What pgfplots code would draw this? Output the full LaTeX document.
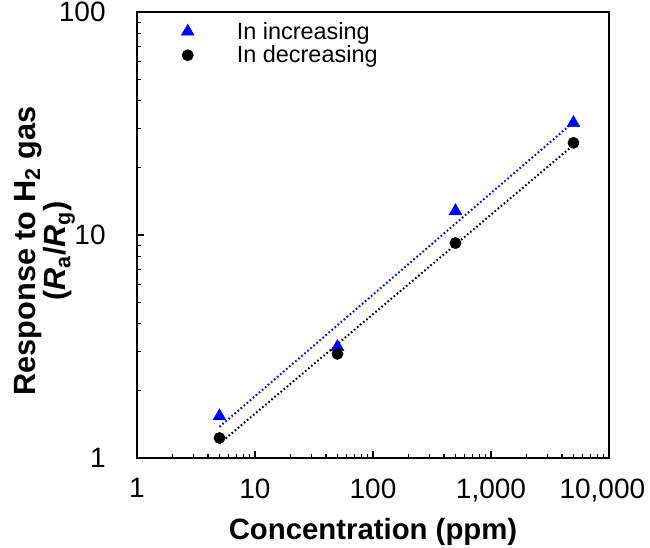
\documentclass[border=0pt]{standalone}
\usepackage{fontspec}
\setmainfont{Liberation Sans}
\usepackage{pgfplots}
\pgfplotsset{compat=1.18}
\definecolor{incblue}{RGB}{0,0,255}

\begin{document}
\begin{tikzpicture}
\begin{axis}[
  scale only axis,
  width=354pt, height=334.5pt,
  xmode=log, ymode=log,
  xmin=1, xmax=10000, ymin=1, ymax=100,
  xtick={1,10,100,1000,10000},
  xticklabels={1,10,100,{1,000},{10,000\hspace*{10pt}}},
  ytick={1,10,100},
  yticklabels={1,10,100},
  tick pos=left, tick align=inside,
  major tick length=5pt, minor tick length=3pt,
  axis line style={line width=1.1pt},
  tick style={line width=0.9pt, black},
  tick label style={font=\fontsize{21}{24}\selectfont},
  yticklabel style={xshift=-20pt},
  xticklabel style={yshift=-12pt},
  xlabel={\textbf{Concentration (ppm)}},
  xlabel style={font=\fontsize{22}{26}\selectfont,
    at={(axis description cs:0.5,-0.166)}, anchor=center},
  ylabel={\textbf{Response to H\textsubscript{2} gas}\\\textbf{(\textit{R}\textsubscript{a}/\textit{R}\textsubscript{g})}},
  ylabel style={font=\fontsize{23}{18}\selectfont, align=center,
    at={(axis description cs:-0.196,0.464)}, anchor=center},
  legend style={at={(0.085,0.99)}, anchor=north west, draw=none, fill=none,
    font=\fontsize{17.6}{17}\selectfont, row sep=-0.5pt, column sep=30pt},
  legend cell align=left,
]
% fitted lines (dotted)
\addplot[incblue, line width=1.5pt, dash pattern=on 1.2pt off 1.8pt, forget plot]
  coordinates {(5,1.38) (5000,32.1)};
\addplot[black, line width=1.5pt, dash pattern=on 1.2pt off 1.8pt, forget plot]
  coordinates {(5,1.16) (5000,25.3)};
% data
\addplot[only marks, mark=triangle*, mark size=5.5pt, incblue]
  coordinates {(5,1.54) (50,3.15) (500,12.8) (5000,31.8)};
\addplot[only marks, mark=*, mark size=4.2pt, black]
  coordinates {(5,1.23) (50,2.93) (500,9.2) (5000,25.9)};
\legend{In increasing, In decreasing}
\end{axis}
\pgfresetboundingbox
\path[use as bounding box] (current axis.south west) ++(-102.75pt,-66.75pt) rectangle ++(487.5pt,410.25pt);
\end{tikzpicture}
\end{document}
